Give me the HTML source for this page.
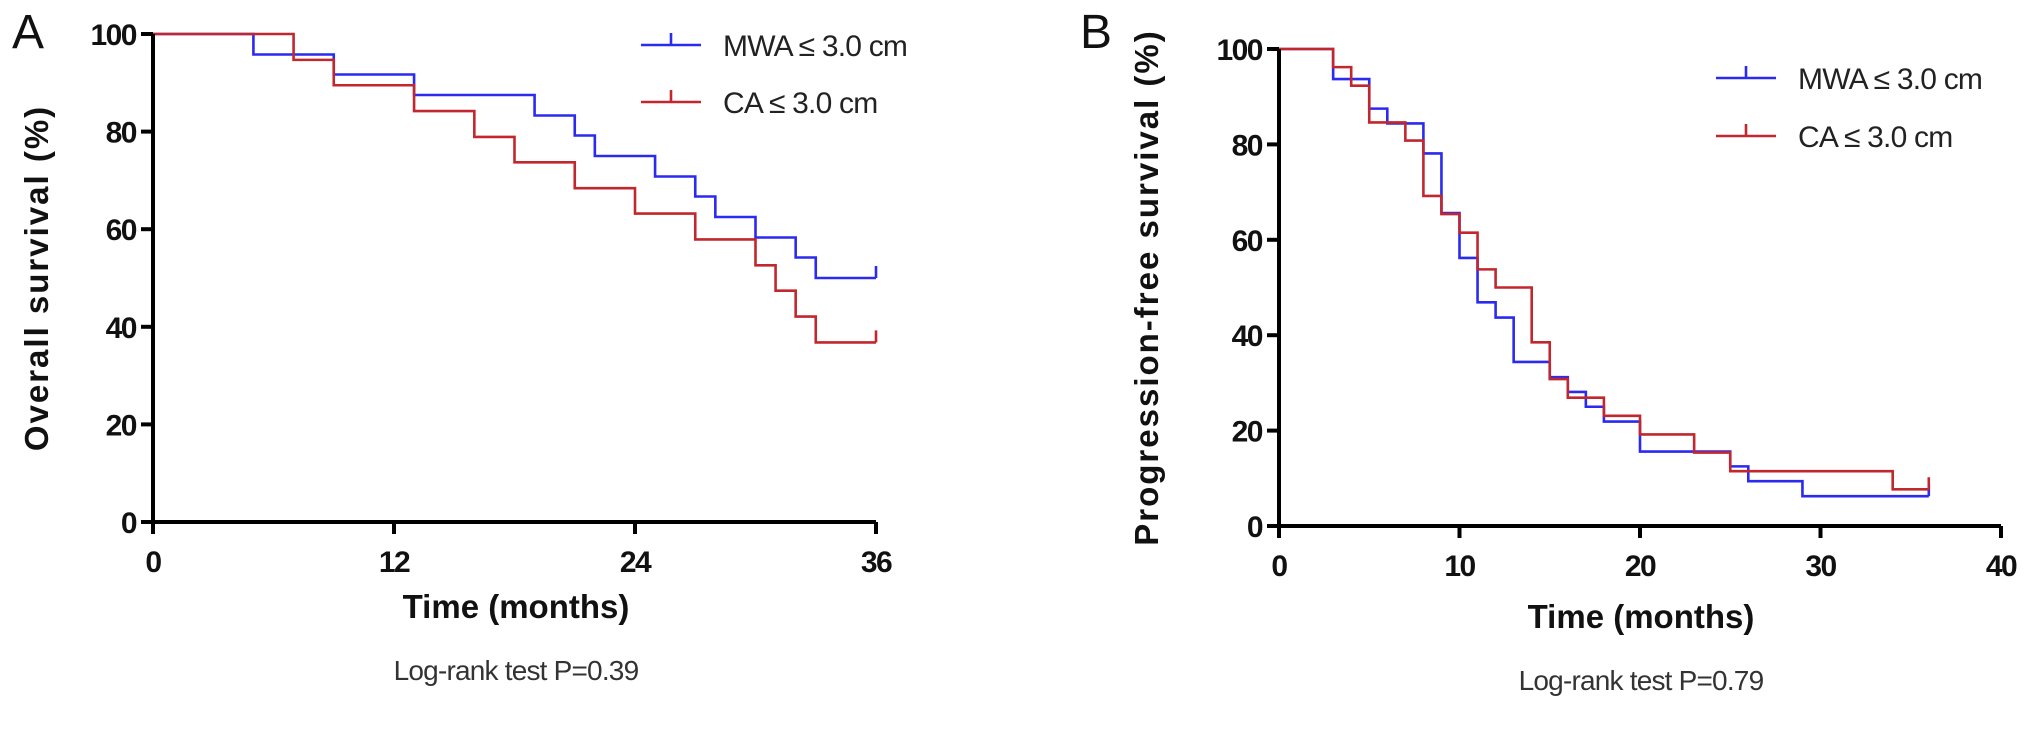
<!DOCTYPE html>
<html><head><meta charset="utf-8"><style>
html,body{margin:0;padding:0;background:#fff;}
svg{display:block;font-family:"Liberation Sans",sans-serif;}
.tick{font-weight:bold;font-size:30px;fill:#111;letter-spacing:-1.5px;}
.ttl{font-weight:bold;font-size:33px;fill:#111;}
.leg{font-size:30px;fill:#222;letter-spacing:-0.8px;}
.lr{font-size:28px;fill:#333;letter-spacing:-0.8px;}
</style></head><body>
<svg id="chart" width="2031" height="732" viewBox="0 0 2031 732">
<text x="12" y="48" font-size="48" fill="#111">A</text>
<text x="1080" y="48" font-size="48" fill="#111">B</text>
<g id="pa"></g>
<g id="pb"></g>
</svg>
<script>
// Panel A data
const aXTicks = [0, 12, 24, 36];
const aYTicks = [0, 20, 40, 60, 80, 100];
const aMwaTimes = [0, 5, 9, 13, 19, 21, 22, 25, 27, 28, 30, 32, 33, 36];
const aMwaSurv = [100, 95.8, 91.7, 87.5, 83.3, 79.2, 75, 70.8, 66.7, 62.5, 58.3, 54.2, 50, 50];
const aCaTimes = [0, 7, 9, 13, 16, 18, 21, 24, 27, 30, 31, 32, 33, 36];
const aCaSurv = [100, 94.7, 89.5, 84.2, 78.9, 73.7, 68.4, 63.2, 57.9, 52.6, 47.4, 42.1, 36.8, 36.8];
// Panel B data
const bXTicks = [0, 10, 20, 30, 40];
const bYTicks = [0, 20, 40, 60, 80, 100];
const bMwaTimes = [0, 3, 5, 6, 8, 9, 10, 11, 12, 13, 15, 16, 17, 18, 20, 25, 26, 29, 36];
const bMwaSurv = [100, 93.7, 87.5, 84.4, 78.1, 65.6, 56.2, 46.9, 43.7, 34.4, 31.2, 28.1, 25, 21.9, 15.6, 12.5, 9.4, 6.25, 6.25];
const bCaTimes = [0, 3, 4, 5, 7, 8, 9, 10, 11, 12, 14, 15, 16, 18, 20, 23, 25, 34, 36];
const bCaSurv = [100, 96.2, 92.3, 84.6, 80.8, 69.2, 65.4, 61.5, 53.8, 50, 38.5, 30.8, 26.9, 23.1, 19.2, 15.4, 11.5, 7.7, 7.7];

const NS = "http://www.w3.org/2000/svg";
const BLUE = "#2a2af0", RED = "#c1272d";
function mk(parent, tag, attrs, text) {
  const e = document.createElementNS(NS, tag);
  for (const k in attrs) e.setAttribute(k, attrs[k]);
  if (text !== undefined) e.textContent = text;
  parent.appendChild(e);
  return e;
}
function panel(g, cfg) {
  const sx = v => cfg.x0 + (v - cfg.xmin) / (cfg.xmax - cfg.xmin) * (cfg.x1 - cfg.x0);
  const sy = v => cfg.y0 - v / 100 * (cfg.y0 - cfg.y1);
  cfg.series.forEach(s => {
    let d = "M" + sx(s.t[0]) + "," + sy(s.v[0]);
    for (let i = 1; i < s.t.length; i++) {
      d += " H" + sx(s.t[i]) + " V" + sy(s.v[i]);
    }
    const p = mk(g, "path", {d: d, fill: "none", stroke: s.color, "stroke-width": 2.6});
    
    
    const last = s.t.length - 1;
    const c = mk(g, "line", {x1: sx(s.t[last]), x2: sx(s.t[last]), y1: sy(s.v[last]), y2: sy(s.v[last]) - 12, stroke: s.color, "stroke-width": 2.6});
    
    
  });
  const ax = mk(g, "path", {d: "M" + cfg.x0 + "," + cfg.y1 + " V" + cfg.y0 + " H" + cfg.x1, fill: "none", stroke: "#000", "stroke-width": 4});
  
  
  cfg.xt.forEach(v => {
    const t = mk(g, "line", {x1: sx(v), x2: sx(v), y1: cfg.y0, y2: cfg.y0 + 12, stroke: "#000", "stroke-width": 4});
    
    
    const l = mk(g, "text", {x: sx(v), y: cfg.y0 + 50, "text-anchor": "middle", class: "tick"}, String(v));
    
    
  });
  cfg.yt.forEach(v => {
    const t = mk(g, "line", {x1: cfg.x0 - 12, x2: cfg.x0, y1: sy(v), y2: sy(v), stroke: "#000", "stroke-width": 4});
    
    
    const l = mk(g, "text", {x: cfg.x0 - 17, y: sy(v) + 11, "text-anchor": "end", class: "tick"}, String(v));
    
    
  });
  const yt = mk(g, "text", {x: cfg.ytx, y: (cfg.y0 + cfg.y1) / 2, "text-anchor": "middle", class: "ttl", transform: "rotate(-90 " + cfg.ytx + " " + (cfg.y0 + cfg.y1) / 2 + ")", "letter-spacing": "2"}, cfg.ytitle);
  
  
  const xt = mk(g, "text", {x: cfg.xtc, y: cfg.xty, "text-anchor": "middle", class: "ttl"}, "Time (months)");
  
  
  const lr = mk(g, "text", {x: cfg.xtc, y: cfg.lry, "text-anchor": "middle", class: "lr"}, cfg.lrtext);
  
  
  cfg.series.forEach((s, i) => {
    const y = cfg.ly + i * cfg.lgap;
    const l = mk(g, "line", {x1: cfg.lx, x2: cfg.lx + 60, y1: y, y2: y, stroke: s.color, "stroke-width": 2.6});
    
    
    const tk = mk(g, "line", {x1: cfg.lx + 30, x2: cfg.lx + 30, y1: y, y2: y - 12, stroke: s.color, "stroke-width": 2.6});
    
    
    const tx = mk(g, "text", {x: cfg.lx + 82, y: y + 11, class: "leg"}, s.label);
    
    
  });
}
panel(document.getElementById("pa"), {
  x0: 153, x1: 876, y0: 522, y1: 34, xmin: 0, xmax: 36, xt: aXTicks, yt: aYTicks,
  ytitle: "Overall survival (%)", ytx: 48, xtc: 516, xty: 618, lry: 680, lrtext: "Log-rank test P=0.39",
  lx: 641, ly: 45, lgap: 57,
  series: [
    {name: "mwa", label: "MWA \u2264 3.0 cm", color: BLUE, t: aMwaTimes, v: aMwaSurv},
    {name: "ca", label: "CA \u2264 3.0 cm", color: RED, t: aCaTimes, v: aCaSurv}
  ]
});
panel(document.getElementById("pb"), {
  x0: 1279, x1: 2001, y0: 526, y1: 49, xmin: 0, xmax: 40, xt: bXTicks, yt: bYTicks,
  ytitle: "Progression-free survival (%)", ytx: 1158, xtc: 1641, xty: 628, lry: 690, lrtext: "Log-rank test  P=0.79",
  lx: 1716, ly: 78, lgap: 58,
  series: [
    {name: "mwa", label: "MWA \u2264 3.0 cm", color: BLUE, t: bMwaTimes, v: bMwaSurv},
    {name: "ca", label: "CA \u2264 3.0 cm", color: RED, t: bCaTimes, v: bCaSurv}
  ]
});
</script>
</body></html>
